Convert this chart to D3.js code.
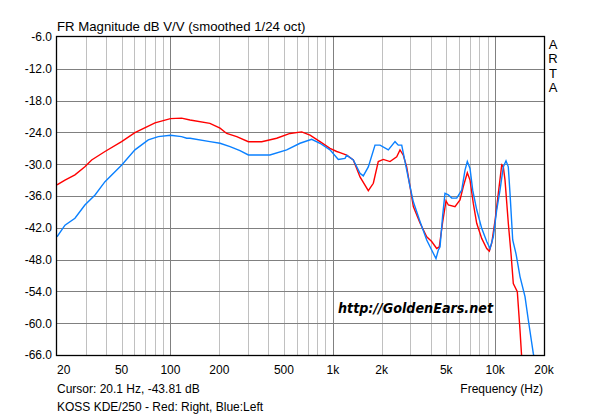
<!DOCTYPE html>
<html>
<head>
<meta charset="utf-8">
<script src="https://cdn.jsdelivr.net/npm/d3@7"></script>
<style>
  html, body { margin: 0; padding: 0; background: #fff; }
  svg { display: block; }
  text { font-family: "Liberation Sans", Arial, sans-serif; fill: #000; }
</style>
</head>
<body>
<svg id="chart" width="600" height="419"></svg>
<script>
// ---- data ----
const redFreq = [20, 22.4, 25.8, 29.7, 32.7, 39.5, 50, 60.4, 80.3, 100, 117, 132, 175, 202, 222, 256, 302, 365, 451, 545, 643, 724, 834, 961, 1057, 1108, 1218, 1338, 1471, 1655, 1777, 1906, 2047, 2251, 2476, 2594, 2719, 2852, 2989, 3134, 3445, 3789, 4065, 4365, 4529, 4754, 4982, 5150, 5658, 6076, 6368, 6740, 7002, 7337, 7700, 8266, 8874, 9206, 9528, 10000, 10462, 10980, 11230, 11504, 12055, 12527, 12940, 13697, 14230, 14580];
const redDb   = [-33.9, -33.0, -32.0, -30.5, -29.2, -27.6, -25.75, -24.05, -22.2, -21.4, -21.3, -21.66, -22.3, -23.2, -24.2, -24.8, -25.75, -25.75, -25.1, -24.2, -23.9, -24.5, -25.75, -27.0, -27.6, -27.8, -28.3, -29.2, -32.4, -35.0, -33.6, -29.5, -29.1, -29.5, -28.6, -27.3, -28.3, -30.5, -34.2, -38.0, -41.1, -43.7, -44.6, -45.9, -45.6, -40.85, -36.9, -37.7, -38.0, -36.75, -34.2, -31.6, -33.0, -37.4, -41.15, -44.0, -45.9, -46.4, -44.9, -40.5, -35.5, -30.15, -30.5, -33.0, -41.15, -46.9, -52.5, -54.05, -61.3, -66.5];

const blueFreq = [20, 22.4, 25.8, 29.7, 34.3, 39.5, 50.1, 60.4, 73, 84.1, 100, 117, 125.9, 132, 175, 202, 232.8, 268, 302, 410, 520, 628, 741, 834, 961, 1081, 1189, 1218, 1338, 1471, 1541, 1655, 1820, 1954, 2198, 2417, 2532, 2658, 2785, 2989, 3134, 3445, 3789, 4065, 4322, 4467, 4577, 4754, 4910, 5150, 5400, 5798, 6224, 6523, 6740, 7002, 7275, 7700, 8266, 8874, 9300, 9746, 10230, 10716, 11230, 11668, 12052, 12350, 12832, 13448, 14230, 15276, 16010, 17180, 17400];
const blueDb   = [-43.7, -41.5, -40.2, -37.7, -35.8, -33.3, -30.15, -27.3, -25.4, -24.8, -24.55, -24.8, -25.1, -25.1, -25.75, -26.05, -26.7, -27.45, -28.25, -28.25, -27.3, -26.05, -25.3, -26.05, -27.3, -29.1, -28.9, -28.3, -29.2, -31.7, -32.2, -30.5, -26.4, -26.4, -27.3, -25.75, -26.4, -26.4, -29.5, -34.2, -37.1, -40.8, -44.3, -46.2, -47.8, -46.2, -45.6, -39.6, -35.5, -35.8, -36.4, -36.4, -34.9, -31.1, -29.5, -30.8, -34.9, -38.6, -42.1, -44.6, -45.9, -43.7, -38.6, -34.9, -30.5, -29.35, -30.5, -35.5, -44.3, -46.9, -51.2, -55.0, -59.4, -65.7, -66.5];

const yTicks = [-6, -12, -18, -24, -30, -36, -42, -48, -54, -60, -66];
const xTickValues = [20, 50, 100, 200, 500, 1000, 2000, 5000, 10000, 20000];
const xTickLabels = ["20", "50", "100", "200", "500", "1k", "2k", "5k", "10k", "20k"];
const majorFreqs = [100, 1000, 10000];

// ---- layout ----
const L = 57, R = 544, T = 37, B = 355;
const svg = d3.select("#chart");
const x = d3.scaleLog().domain([20, 20000]).range([L, R]);
const y = d3.scaleLinear().domain([-66, -6]).range([B, T]);

// minor vertical grid
const gridFreqs = [];
[10, 100, 1000, 10000].forEach(dec => {
  for (let m = 1; m <= 9; m++) {
    const f = dec * m;
    if (f > 20 && f < 20000) gridFreqs.push(f);
  }
});
const px = v => Math.round(v) + 0.5;

svg.append("g").selectAll("line")
  .data(gridFreqs.filter(f => !majorFreqs.includes(f)))
  .join("line")
  .attr("x1", d => px(x(d))).attr("x2", d => px(x(d)))
  .attr("y1", T).attr("y2", B)
  .attr("stroke", "#c0c0c0").attr("stroke-width", 1);

// horizontal grid
svg.append("g").selectAll("line")
  .data(yTicks.slice(1, -1))
  .join("line")
  .attr("x1", L).attr("x2", R)
  .attr("y1", d => px(y(d))).attr("y2", d => px(y(d)))
  .attr("stroke", "#808080").attr("stroke-width", 1);

// decade vertical grid
svg.append("g").selectAll("line")
  .data(majorFreqs)
  .join("line")
  .attr("x1", d => px(x(d))).attr("x2", d => px(x(d)))
  .attr("y1", T).attr("y2", B)
  .attr("stroke", "#808080").attr("stroke-width", 1);

// curves
svg.append("clipPath").attr("id", "clip")
  .append("rect").attr("x", L).attr("y", T).attr("width", R - L).attr("height", B - T);

const line = d3.line().x(d => x(d[0])).y(d => y(d[1]));
const redData = redFreq.map((f, i) => [f, redDb[i]]);
const blueData = blueFreq.map((f, i) => [f, blueDb[i]]);

const curves = svg.append("g").attr("clip-path", "url(#clip)");
curves.append("path").datum(redData).attr("d", line)
  .attr("fill", "none").attr("stroke", "#ff0000").attr("stroke-width", 1.4);
curves.append("path").datum(blueData).attr("d", line)
  .attr("fill", "none").attr("stroke", "#0a80ff").attr("stroke-width", 1.4);

// frame
svg.append("rect").attr("x", L - 0.5).attr("y", T - 0.5)
  .attr("width", R - L + 1).attr("height", B - T + 1)
  .attr("fill", "none").attr("stroke", "#000").attr("stroke-width", 1.3);

// y labels
svg.append("g").selectAll("text")
  .data(yTicks)
  .join("text")
  .attr("x", 52).attr("y", d => y(d) + 4.3)
  .attr("text-anchor", "end")
  .attr("font-size", 12)
  .text(d => d.toFixed(1));

// x labels
svg.append("g").selectAll("text")
  .data(xTickValues)
  .join("text")
  .attr("x", d => x(d))
  .attr("y", 374)
  .attr("text-anchor", (d, i) => i === 0 ? "start" : "middle")
  .attr("font-size", 12)
  .text((d, i) => xTickLabels[i]);

// title
svg.append("text").attr("x", 57).attr("y", 31).attr("font-size", 13.2)
  .text("FR Magnitude dB V/V (smoothed 1/24 oct)");

// ARTA vertical
["A", "R", "T", "A"].forEach((c, i) => {
  svg.append("text").attr("x", 553).attr("y", 49 + i * 14.3)
    .attr("text-anchor", "middle").attr("font-size", 13).text(c);
});

// watermark
svg.append("text").attr("x", 338).attr("y", 313)
  .style("font-family", "'DejaVu Sans', Verdana, sans-serif")
  .attr("font-weight", "bold").attr("font-style", "italic")
  .attr("font-size", 14)
  .attr("textLength", 155).attr("lengthAdjust", "spacingAndGlyphs")
  .text("http://GoldenEars.net");

// bottom texts
svg.append("text").attr("x", 57).attr("y", 393).attr("font-size", 12)
  .text("Cursor: 20.1 Hz, -43.81 dB");
svg.append("text").attr("x", 57).attr("y", 411).attr("font-size", 12)
  .text("KOSS KDE/250 - Red: Right, Blue:Left");
svg.append("text").attr("x", 543).attr("y", 393).attr("text-anchor", "end").attr("font-size", 12)
  .text("Frequency (Hz)");
</script>
</body>
</html>
